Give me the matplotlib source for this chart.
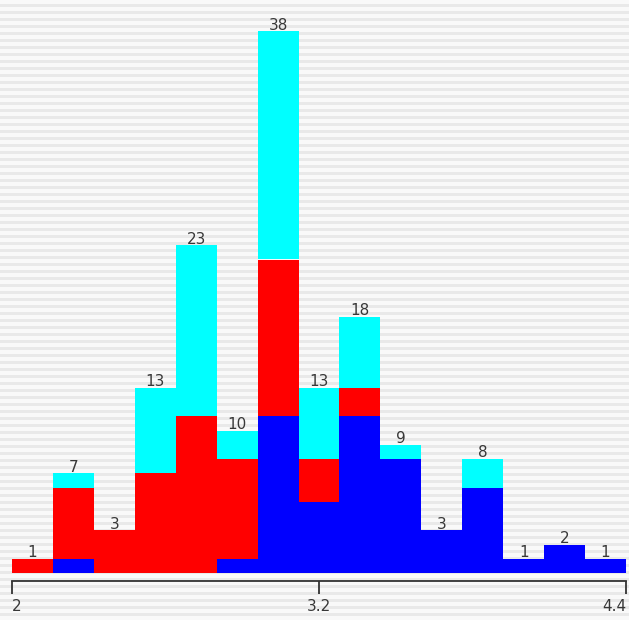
"""Stacked histogram of sepal width by species, three colours per bin."""
import matplotlib
matplotlib.use("Agg")
import matplotlib.pyplot as plt
import numpy as np

# bin edges 2.0 .. 4.4 in 15 bins
bin_edges = [2.0, 2.16, 2.32, 2.48, 2.64, 2.8, 2.96, 3.12, 3.28,
             3.44, 3.6, 3.76, 3.92, 4.08, 4.24, 4.4]
blue_counts = [0, 1, 0, 0, 0, 1, 11, 5, 11, 8, 3, 6, 1, 2, 1]
red_counts = [1, 5, 3, 7, 11, 7, 11, 3, 2, 0, 0, 0, 0, 0, 0]
cyan_counts = [0, 1, 0, 6, 12, 2, 16, 5, 5, 1, 0, 2, 0, 0, 0]
tick_values = [2, 3.2, 4.4]
tick_labels = ["2", "3.2", "4.4"]

W, H = 629, 620
fig = plt.figure(figsize=(W / 100, H / 100), dpi=100)

# striped background over the whole picture
bg = fig.add_axes([0, 0, 1, 1], zorder=-1)
bg.set_xlim(0, W)
bg.set_ylim(H, 0)
bg.axis("off")
bg.add_patch(plt.Rectangle((0, 0), W, H, color="#f9f9f9", lw=0))
for y0 in np.arange(0, H, 7):
    bg.add_patch(plt.Rectangle((0, y0 + 4), W, 3, color="#e9e9e9", lw=0))

# main axes: x 2 -> 12px, 4.4 -> 626px; y = 0 at 573px from top
left, right = 12 / W, 626 / W
bottom = (H - 573) / H
ax = fig.add_axes([left, bottom, right - left, 1 - bottom])
ax.patch.set_visible(False)

edges = np.array(bin_edges)
widths = np.diff(edges)
blue = np.array(blue_counts)
red = np.array(red_counts)
cyan = np.array(cyan_counts)

ax.bar(edges[:-1], blue, width=widths, align="edge", color="#0000ff", lw=0)
ax.bar(edges[:-1], red, width=widths, bottom=blue, align="edge",
       color="#ff0000", lw=0)
ax.bar(edges[:-1], cyan, width=widths, bottom=blue + red, align="edge",
       color="#00ffff", lw=0)

totals = blue + red + cyan
for x0, w, t in zip(edges[:-1], widths, totals):
    ax.text(x0 + w / 2, t - 0.1, str(t), ha="center", va="bottom",
            fontsize=11, color="#383838")

ax.set_xlim(2.0, 4.4)
ax.set_ylim(0, 573 / 14.25)

for side in ("left", "right", "top"):
    ax.spines[side].set_visible(False)
ax.spines["bottom"].set_position(("outward", 6))
ax.spines["bottom"].set_color("#333333")
ax.spines["bottom"].set_linewidth(1.3)
ax.set_yticks([])
ax.set_xticks(tick_values)
ax.set_xticklabels(tick_labels)
ax.tick_params(axis="x", length=9, width=1.3, color="#333333",
               labelsize=11, labelcolor="#383838", pad=4)
for lbl, ha in zip(ax.get_xticklabels(), ["left", "center", "right"]):
    lbl.set_horizontalalignment(ha)

fig.savefig("out.png", dpi=100)
